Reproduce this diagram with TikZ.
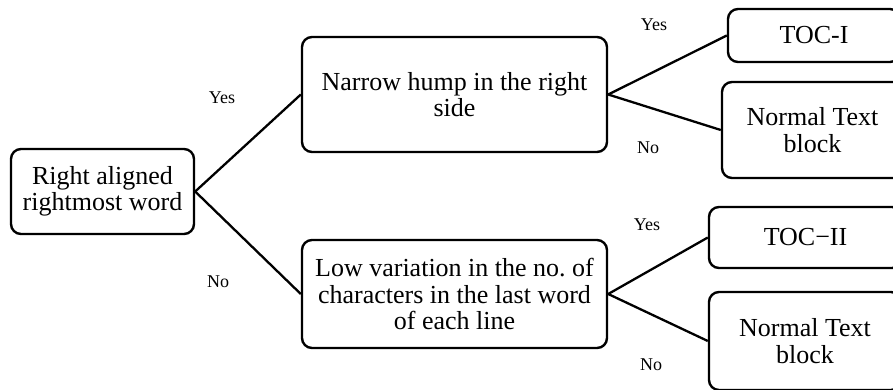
\documentclass[tikz,border=0pt]{standalone}
\usepackage{fontspec}
\setmainfont{Liberation Serif}
\frenchspacing
\begin{document}
\begin{tikzpicture}[x=1pt,y=-1pt,
  box/.style={draw, line width=2.4pt, rounded corners=10pt, inner sep=0pt,
    align=center, font=\fontsize{26}{26.5}\selectfont},
  link/.style={line width=2.3pt},
  lbl/.style={anchor=base, inner sep=0pt, font=\fontsize{18}{20}\selectfont}]
  \useasboundingbox (0,0) rectangle (893,389);
  \clip (0,0) rectangle (893,389);

  % decision nodes
  \node[box, minimum width=183pt, minimum height=85pt] (root) at (102.5,191.5)
    {Right aligned\\rightmost word};
  \node[box, minimum width=305pt, minimum height=115pt] (hump) at (454.5,94.5)
    {Narrow hump in the right\\side};
  \node[box, minimum width=305pt, minimum height=108pt] (lowvar) at (454.5,294)
    {Low variation in the no. of\\characters in the last word\\of each line};

  % outcome nodes
  \node[box, minimum width=172pt, minimum height=53pt] (toca) at (814,35.5) {TOC-I};
  \node[box, minimum width=181pt, minimum height=96pt] (ntA) at (812.5,130)
    {Normal Text\\block};
  \node[box, minimum width=193pt, minimum height=61pt] (tocb) at (805.5,237.5) {TOC\textminus II};
  \node[box, minimum width=192pt, minimum height=98pt] (ntB) at (805,341)
    {Normal Text\\block};

  % connectors
  \draw[link] (root.east) -- (hump.west);
  \draw[link] (root.east) -- (lowvar.west);
  \draw[link] (hump.east) -- (toca.west);
  \draw[link] (hump.east) -- (ntA.west);
  \draw[link] (lowvar.east) -- (tocb.west);
  \draw[link] (lowvar.east) -- (ntB.west);

  % branch labels
  \node[lbl] (y1) at (222,103) {Yes};
  \node[lbl] (n1) at (218,287) {No};
  \node[lbl] (y2) at (654,30.5) {Yes};
  \node[lbl] (n2) at (648,153) {No};
  \node[lbl] (y3) at (647,230) {Yes};
  \node[lbl] (n3) at (651,370) {No};
\end{tikzpicture}
\end{document}
